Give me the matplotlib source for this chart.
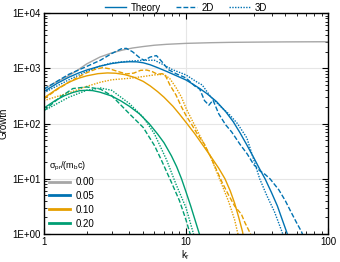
import matplotlib
matplotlib.use("Agg")
import matplotlib.pyplot as plt
from matplotlib.lines import Line2D
from matplotlib.ticker import FuncFormatter, LogLocator, NullFormatter
import numpy as np

plt.rcParams['font.family'] = ['Liberation Sans', 'DejaVu Sans']
plt.rcParams['mathtext.fontset'] = 'custom'
plt.rcParams['mathtext.rm'] = 'Liberation Sans'
plt.rcParams['mathtext.it'] = 'Liberation Sans'

# colours per momentum spread
c_gray = '#a6a6a6'
c_blue = '#0072B2'
c_orange = '#E69F00'
c_green = '#009E73'

# sigma = 0.00 (theory only)
k_gray = [1, 1.2, 1.45, 1.7, 2.0, 2.48, 3.0, 3.6, 4.2, 5, 6, 7.3, 10, 15, 20, 30, 50, 100]
g_gray = [420, 550, 705, 900, 1200, 1600, 1900, 2150, 2330, 2480, 2620, 2720, 2830, 2910, 2950, 2980, 3010, 3030]

# sigma = 0.05
k_b_th = [1, 1.25, 1.5, 1.75, 2, 2.5, 3, 3.5, 4, 4.5, 5, 5.6, 6.3, 7.3, 8.5, 10, 11.2, 12.5, 14,
          16.4, 19, 21.5, 24, 26.8, 30, 33, 36, 40, 44, 48, 51, 55]
g_b_th = [380, 540, 690, 820, 930, 1100, 1220, 1290, 1315, 1310, 1260, 1160, 1030, 880, 740, 615, 515, 430, 350,
          250, 165, 108, 68, 41, 24, 15, 10, 5.6, 3.2, 1.7, 1.1, 0.6]
k_b_2d = [1, 1.5, 2, 2.5, 3, 3.5, 3.8, 4.2, 4.8, 5.1, 5.6, 6.2, 6.8, 7.5, 8.5, 10, 11.5, 12.5, 13.5, 14.5,
          15.5, 17, 19, 21, 24, 27, 30, 33, 36, 39, 45, 50, 54, 60, 65, 68]
g_b_2d = [420, 780, 1080, 1400, 1850, 2250, 2300, 2000, 1500, 1400, 1600, 1700, 1300, 950, 800, 670, 480, 420, 260, 215,
          265, 150, 95, 70, 42, 28, 18, 14, 12, 10, 6.3, 4, 2.7, 1.6, 1.1, 0.8]
k_b_3d = [1, 1.5, 2, 2.5, 3, 4, 5, 6, 7, 8, 10, 12, 13, 15, 18, 20, 23, 26.8, 30, 33, 37, 42, 48, 52]
g_b_3d = [360, 620, 880, 1100, 1250, 1350, 1400, 1400, 1150, 950, 760, 560, 500, 300, 190, 150, 100, 55, 22, 10, 5, 2.5, 1.0, 0.6]

# sigma = 0.10
k_o_th = [1, 1.25, 1.5, 1.75, 2, 2.4, 2.8, 3.2, 3.7, 4.3, 5, 5.6, 6.3, 7, 8.1, 9, 10, 11.5, 13.2,
          15, 17, 18.8, 20.5, 22, 23.5, 25, 26]
g_o_th = [290, 430, 560, 660, 730, 800, 825, 815, 770, 690, 580, 480, 380, 300, 205, 148, 105, 66, 40,
          25, 15.5, 10, 6, 3.6, 2, 1.1, 0.6]
k_o_2d = [1, 1.25, 1.5, 1.75, 2, 2.3, 2.6, 2.9, 3.3, 3.8, 4.3, 4.8, 5.3, 5.8, 6.3, 6.8, 7.2, 7.7, 8.5, 9.3,
          10, 11, 12, 13.5, 15, 16.5, 18, 20, 22, 23.5, 24.5, 26, 27.5, 29, 30]
g_o_2d = [280, 420, 560, 700, 830, 960, 1030, 980, 880, 790, 820, 920, 930, 870, 780, 800, 720, 500, 330, 200,
          140, 95, 65, 42, 24, 14, 8.5, 5, 3.2, 2.6, 2.3, 1.6, 1.2, 0.9, 0.7]
k_o_3d = [1, 1.5, 2, 2.5, 3, 4, 5, 6, 7, 7.7, 8.5, 9.3, 10, 12, 15, 18, 20, 22, 23, 24]
g_o_3d = [260, 360, 470, 560, 620, 660, 710, 760, 780, 650, 450, 300, 190, 75, 24, 7.5, 3.8, 1.8, 1.1, 0.7]

# sigma = 0.20
k_g_th = [1, 1.2, 1.4, 1.6, 1.8, 2, 2.2, 2.48, 3, 3.5, 4, 4.7, 5.5, 6.3, 7, 7.9, 8.6, 9.3, 10,
          10.8, 11.5, 12.5, 13.2]
g_g_th = [190, 260, 320, 365, 395, 400, 395, 370, 315, 255, 205, 150, 100, 65, 45, 26, 16.5, 10, 5.8,
          3.2, 1.9, 0.95, 0.5]
k_g_2d = [1, 1.3, 1.6, 2, 2.5, 3, 4, 5, 6, 6.7, 8, 9, 10, 10.7, 11.5]
g_g_2d = [170, 300, 430, 460, 420, 320, 150, 85, 40, 22, 8, 4, 1.8, 1.0, 0.6]
k_g_3d = [1, 1.5, 2, 2.5, 3, 4, 5, 6, 7.3, 8.5, 10, 11.3, 12]
g_g_3d = [170, 300, 400, 440, 400, 230, 130, 65, 22, 8, 3, 1.0, 0.6]

sigma_labels = ['0.00', '0.05', '0.10', '0.20']

fig = plt.figure(figsize=(3.4, 2.62), dpi=100)
ax = fig.add_axes([0.129, 0.107, 0.836, 0.843])

lw = 1.0
dash = (0, (3.5, 1.5))
dot = (0, (1, 1))
ax.plot(k_gray, g_gray, color=c_gray, lw=lw)
ax.plot(k_b_th, g_b_th, color=c_blue, lw=lw)
ax.plot(k_b_2d, g_b_2d, color=c_blue, lw=lw, ls=dash)
ax.plot(k_b_3d, g_b_3d, color=c_blue, lw=lw, ls=dot)
ax.plot(k_o_th, g_o_th, color=c_orange, lw=lw)
ax.plot(k_o_2d, g_o_2d, color=c_orange, lw=lw, ls=dash)
ax.plot(k_o_3d, g_o_3d, color=c_orange, lw=lw, ls=dot)
ax.plot(k_g_th, g_g_th, color=c_green, lw=lw)
ax.plot(k_g_2d, g_g_2d, color=c_green, lw=lw, ls=dash)
ax.plot(k_g_3d, g_g_3d, color=c_green, lw=lw, ls=dot)

ax.set_xscale('log')
ax.set_yscale('log')
ax.set_xlim(1, 100)
ax.set_ylim(1, 1e4)

ax.grid(True, which='major', color='#e6e6e6', lw=0.8)
ax.set_axisbelow(True)

ax.yaxis.set_major_formatter(FuncFormatter(lambda v, p: '1E+%02d' % int(round(np.log10(v)))))
ax.xaxis.set_major_formatter(FuncFormatter(lambda v, p: '%d' % v))
ax.yaxis.set_minor_locator(LogLocator(base=10, subs=np.arange(2, 10), numticks=20))
ax.xaxis.set_minor_locator(LogLocator(base=10, subs=np.arange(2, 10), numticks=20))
ax.xaxis.set_minor_formatter(NullFormatter())
ax.yaxis.set_minor_formatter(NullFormatter())
ax.tick_params(which='both', direction='in', top=True, right=True, labelsize=7, pad=2)
ax.tick_params(which='major', length=4, width=0.8)
ax.tick_params(which='minor', length=2, width=0.6)
for s in ax.spines.values():
    s.set_linewidth(1.0)

ax.set_xlabel('k$_\\mathregular{r}$', fontsize=7, labelpad=1)
ax.set_ylabel('Growth', fontsize=7, labelpad=3)

# top legend: line styles
style_handles = [Line2D([], [], color=c_blue, lw=lw),
                 Line2D([], [], color=c_blue, lw=lw, ls=dash),
                 Line2D([], [], color=c_blue, lw=lw, ls=dot)]
leg1 = ax.legend(style_handles, ['Theory', '2D', '3D'], ncol=3, frameon=False,
                 fontsize=7, loc='lower center', bbox_to_anchor=(0.5, 0.985),
                 handlelength=2.2, columnspacing=1.6, handletextpad=0.4,
                 borderaxespad=0)
ax.add_artist(leg1)

# inner legend: momentum spread
col_handles = [Line2D([], [], color=c, lw=2) for c in [c_gray, c_blue, c_orange, c_green]]
leg2 = ax.legend(col_handles, sigma_labels, frameon=False, fontsize=7,
                 title='$\\mathregular{\\sigma_{pr}/(m_b c)}$', title_fontsize=6.5,
                 loc='lower left', bbox_to_anchor=(0.0, 0.0), handlelength=2.1,
                 handletextpad=0.6, labelspacing=0.4, borderaxespad=0.15)
leg2._legend_box.align = 'left'

fig.savefig('out.png', dpi=100)
